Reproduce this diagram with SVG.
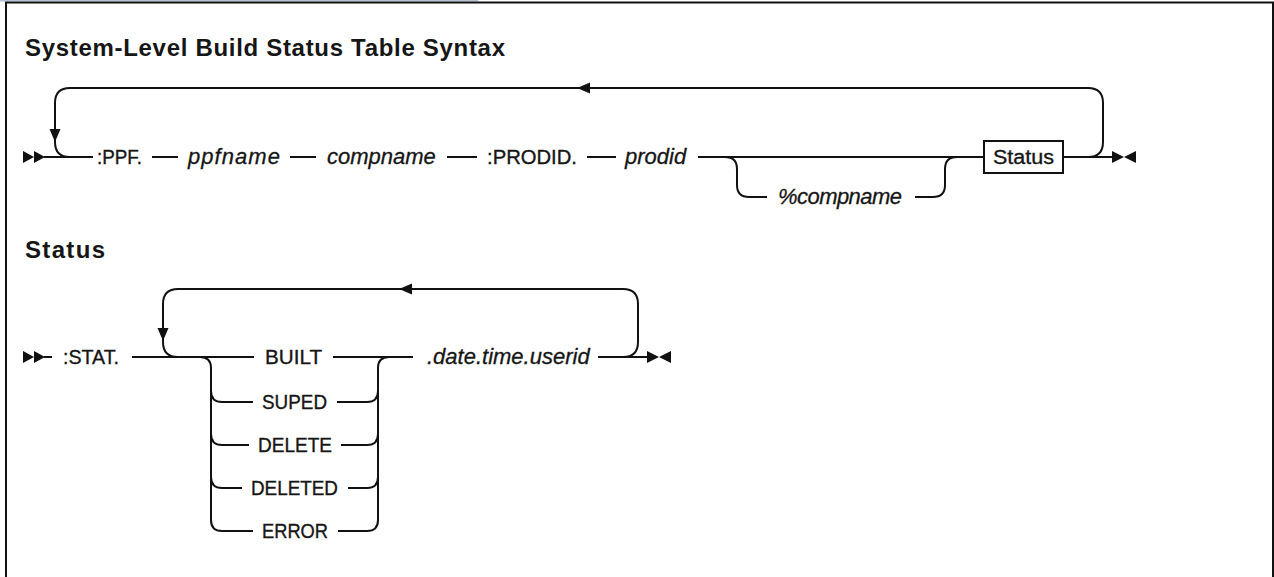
<svg xmlns="http://www.w3.org/2000/svg" width="1274" height="577" viewBox="0 0 1274 577">
<style>
.frame{fill:none;stroke:#111;stroke-width:2}
.ln{fill:none;stroke:#111;stroke-width:2}
.ar{fill:#111;stroke:none}
.h{font-family:"Liberation Sans",Arial,sans-serif;font-weight:bold;font-size:24px;fill:#161616}
.kw{font-family:"Liberation Sans",Arial,sans-serif;font-size:20px;fill:#161616;stroke:#161616;stroke-width:0.35}
.var{font-family:"Liberation Sans",Arial,sans-serif;font-style:italic;font-size:22px;fill:#161616;stroke:#161616;stroke-width:0.3}
.box{fill:#fff;stroke:#111;stroke-width:2}
</style>
<rect width="1274" height="577" fill="#fff"/>
<rect x="0" y="0" width="478" height="1.5" fill="#b4c2d4"/>
<path class="frame" d="M6 577 L6 2.5 L1273 2.5 L1273 577"/>

<g id="title1"><text class="h" x="25" y="56" textLength="480" lengthAdjust="spacing">System-Level Build Status Table Syntax</text></g>
<g id="title2"><text class="h" x="25" y="258" textLength="80" lengthAdjust="spacing">Status</text></g>

<g id="connectors">
  <!-- row 1 -->
  <path class="ar" d="M23 151 L34 157 L23 163 Z M34 151 L45 157 L34 163 Z"/>
  <path class="ln" d="M44 157 L93 157"/>
  <path class="ln" d="M152 157 L178 157"/>
  <path class="ln" d="M290 157 L316 157"/>
  <path class="ln" d="M447 157 L477 157"/>
  <path class="ln" d="M587 157 L616 157"/>
  <path class="ln" d="M698 157 L984 157"/>
  <path class="ln" d="M1063 157 L1112 157"/>
  <path class="ar" d="M1112 151 L1124 157 L1112 163 Z M1136 151 L1124 157 L1136 163 Z"/>
  <path class="ln" d="M1088 157 Q1103 157 1103 142 L1103 103 Q1103 88 1088 88 L70 88 Q55 88 55 103 L55 142 Q55 157 70 157"/>
  <path class="ar" d="M49.5 129 L60.5 129 L55 142 Z"/>
  <path class="ar" d="M577 88 L590 82.5 L590 93.5 Z"/>
  <path class="ln" d="M725 157 Q737 157 737 169 L737 185 Q737 197 749 197 L767 197"/>
  <path class="ln" d="M915 197 L933 197 Q945 197 945 185 L945 169 Q945 157 957 157"/>
  <!-- row 2 -->
  <path class="ar" d="M23 351 L34 357 L23 363 Z M34 351 L45 357 L34 363 Z"/>
  <path class="ln" d="M44 357 L52 357"/>
  <path class="ln" d="M132 357 L254 357"/>
  <path class="ln" d="M333 357 L413 357"/>
  <path class="ln" d="M598 357 L647 357"/>
  <path class="ar" d="M647 351 L659 357 L647 363 Z M671 351 L659 357 L671 363 Z"/>
  <path class="ln" d="M623 357 Q638 357 638 342 L638 304 Q638 289 623 289 L178 289 Q163 289 163 304 L163 342 Q163 357 178 357"/>
  <path class="ar" d="M157.5 328 L168.5 328 L163 341 Z"/>
  <path class="ar" d="M399 289 L412 283.5 L412 294.5 Z"/>
  <path class="ln" d="M200 357 Q211 357 211 368 L211 520 Q211 531 222 531 L253 531"/>
  <path class="ln" d="M211 391 Q211 402 222 402 L253 402"/>
  <path class="ln" d="M211 434 Q211 445 222 445 L249 445"/>
  <path class="ln" d="M211 477 Q211 488 222 488 L242 488"/>
  <path class="ln" d="M389 357 Q378 357 378 368 L378 520 Q378 531 367 531 L338 531"/>
  <path class="ln" d="M378 391 Q378 402 367 402 L337 402"/>
  <path class="ln" d="M378 434 Q378 445 367 445 L341 445"/>
  <path class="ln" d="M378 477 Q378 488 367 488 L348 488"/>
</g>

<g id="n-ppf"><text class="kw" x="97" y="164" textLength="45" lengthAdjust="spacingAndGlyphs">:PPF.</text></g>
<g id="n-ppfname"><text class="var" x="188" y="164" textLength="92" lengthAdjust="spacing">ppfname</text></g>
<g id="n-compname"><text class="var" x="327" y="164">compname</text></g>
<g id="n-prodid-kw"><text class="kw" x="487" y="164" textLength="90" lengthAdjust="spacingAndGlyphs">:PRODID.</text></g>
<g id="n-prodid"><text class="var" x="625" y="164">prodid</text></g>
<g id="n-pcompname"><text class="var" x="778" y="204" textLength="124" lengthAdjust="spacing">%compname</text></g>
<g id="n-status-ref"><rect class="box" x="984" y="141" width="79" height="32"/><text class="kw" x="993" y="164" textLength="61" lengthAdjust="spacingAndGlyphs">Status</text></g>

<g id="n-stat"><text class="kw" x="63" y="364" textLength="56" lengthAdjust="spacingAndGlyphs">:STAT.</text></g>
<g id="n-built"><text class="kw" x="265" y="364" textLength="57" lengthAdjust="spacingAndGlyphs">BUILT</text></g>
<g id="n-suped"><text class="kw" x="262" y="409" textLength="65" lengthAdjust="spacingAndGlyphs">SUPED</text></g>
<g id="n-delete"><text class="kw" x="258" y="452" textLength="74" lengthAdjust="spacingAndGlyphs">DELETE</text></g>
<g id="n-deleted"><text class="kw" x="251" y="495" textLength="87" lengthAdjust="spacingAndGlyphs">DELETED</text></g>
<g id="n-error"><text class="kw" x="262" y="538" textLength="66" lengthAdjust="spacingAndGlyphs">ERROR</text></g>
<g id="n-datetime"><text class="var" x="427" y="364">.date.time.userid</text></g>
</svg>
